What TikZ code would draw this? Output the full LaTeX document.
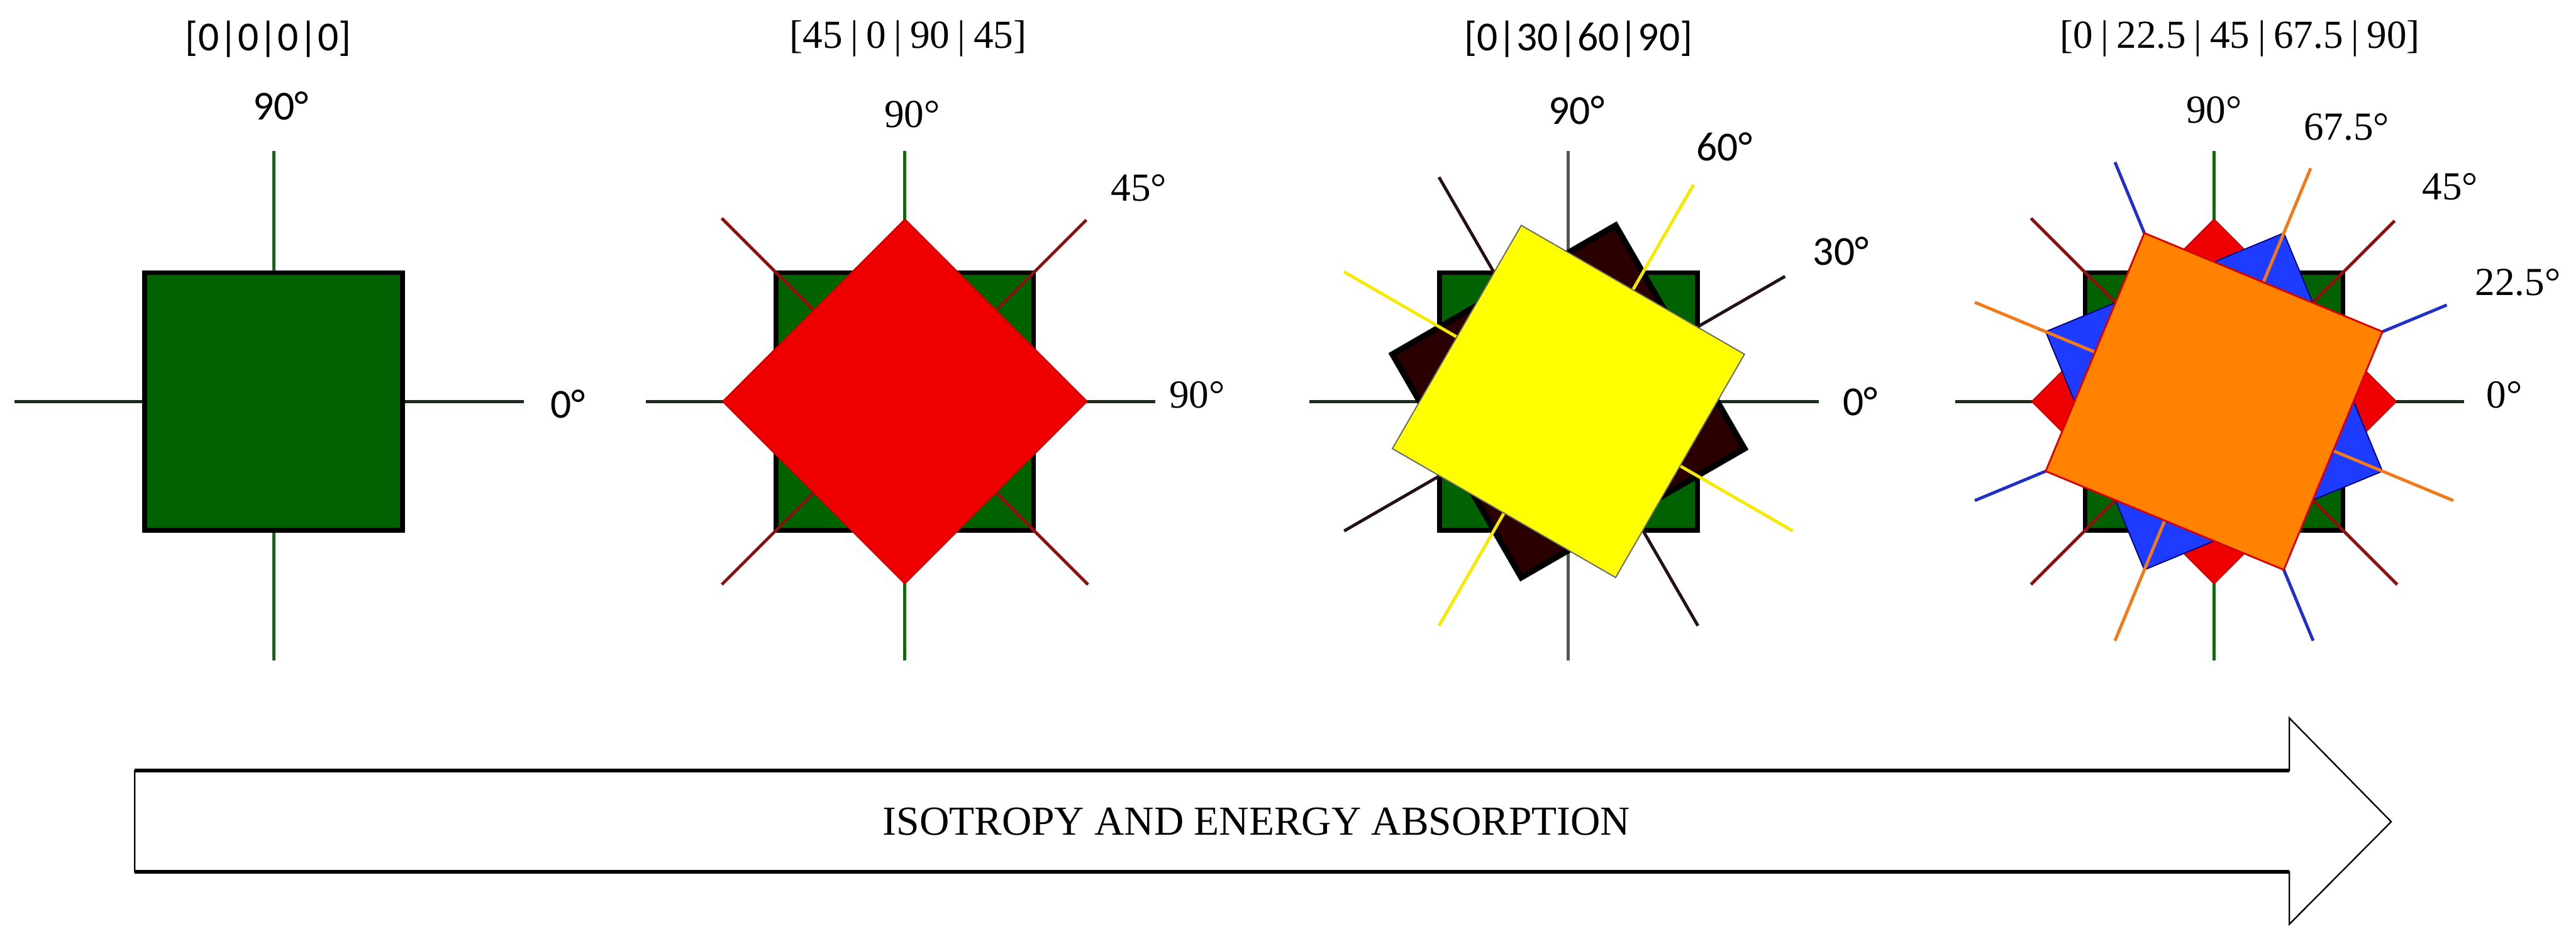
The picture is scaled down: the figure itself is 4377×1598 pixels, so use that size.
\documentclass[tikz,border=0pt]{standalone}
\usepackage{fontspec}
\setmainfont{Liberation Serif}
\newfontfamily\sansf{Carlito}
\definecolor{sqgreen}{HTML}{006200}
\definecolor{gvline}{HTML}{0F6A0F}
\definecolor{ghline}{HTML}{1E2A1E}
\definecolor{graylinec}{HTML}{4B5A50}
\definecolor{redsq}{HTML}{EE0000}
\definecolor{redline}{HTML}{8E1010}
\definecolor{darksq}{HTML}{2A0000}
\definecolor{darkline}{HTML}{24101A}
\definecolor{yellowsq}{HTML}{FFFF00}
\definecolor{yellowline}{HTML}{F5EA00}
\definecolor{bluesq}{HTML}{1E3CFF}
\definecolor{bluelinec}{HTML}{2030C8}
\definecolor{orangesq}{HTML}{FF8200}
\definecolor{orangelinec}{HTML}{F27A1A}
\newcommand\vbar{\hspace{0.2em}|\hspace{0.2em}}
\begin{document}
\begin{tikzpicture}[x=0.2pt,y=0.2pt,
  axis/.style={line width=1.05pt},
  gsq/.style={fill=sqgreen,draw=black,line width=1.6pt},
  rsq/.style={fill=redsq,draw=red!80!black,line width=0.4pt},
  dsq/.style={fill=darksq,draw=black,line width=2pt},
  ysq/.style={fill=yellowsq,draw=black!60,line width=0.4pt},
  bsq/.style={fill=bluesq,draw=blue!50!black,line width=0.4pt},
  osq/.style={fill=orangesq,draw=red!85!black,line width=0.6pt},
  sanslbl/.style={font=\sansf\fontsize{14}{16}\selectfont,inner sep=0pt},
  seriflbl/.style={font=\fontsize{13.5}{16}\selectfont,inner sep=0pt}]
\useasboundingbox (0,0) rectangle (4377,1598);

% ---------- Panel 1 ----------
\begin{scope}[shift={(465,916)}]
  \draw[axis,gvline] (270:440) -- (90:425);
  \draw[axis,ghline] (180:440) -- (0:425);
  \draw[gsq] (45:309.7) -- (135:309.7) -- (225:309.7) -- (315:309.7) -- cycle;
\end{scope}
\node[sanslbl] (t1) at (456,1532) {[0|0|0|0]};
\node[sanslbl] (a1n) at (477,1418) {90°};
\node[sanslbl] (a1z) at (965,912) {0°};

% ---------- Panel 2 ----------
\begin{scope}[shift={(1537.5,916)}]
  \draw[axis,gvline] (270:440) -- (90:425);
  \draw[axis,ghline] (180:440) -- (0:425);
  \draw[gsq] (45:309.7) -- (135:309.7) -- (225:309.7) -- (315:309.7) -- cycle;
  \draw[axis,redline,rotate=45] (180:440) -- (0:436) (270:440) -- (90:440);
  \draw[rsq,rotate=45] (45:309.7) -- (135:309.7) -- (225:309.7) -- (315:309.7) -- cycle;
\end{scope}
\node[seriflbl] (t2) at (1543,1532) {[45\vbar 0\vbar 90\vbar 45]};
\node[seriflbl] (a2n) at (1550,1404) {90°};
\node[seriflbl] (a2d) at (1935,1279) {45°};
\node[seriflbl] (a2z) at (2034,927) {90°};

% ---------- Panel 3 ----------
\begin{scope}[shift={(2665,916)}]
  \draw[axis,graylinec] (270:440) -- (90:425);
  \draw[axis,ghline] (180:440) -- (0:425);
  \draw[gsq] (45:309.7) -- (135:309.7) -- (225:309.7) -- (315:309.7) -- cycle;
  \draw[axis,darkline,rotate=30] (180:440) -- (0:425) (270:440) -- (90:440);
  \draw[dsq,rotate=30] (45:309.7) -- (135:309.7) -- (225:309.7) -- (315:309.7) -- cycle;
  \draw[axis,yellowline,rotate=60] (180:440) -- (0:425) (270:440) -- (90:440);
  \draw[ysq,rotate=60] (45:309.7) -- (135:309.7) -- (225:309.7) -- (315:309.7) -- cycle;
\end{scope}
\node[sanslbl] (t3) at (2682,1532) {[0|30|60|90]};
\node[sanslbl] (a3n) at (2679,1411) {90°};
\node[sanslbl] (a3s) at (2930,1349) {60°};
\node[sanslbl] (a3t) at (3128,1171) {30°};
\node[sanslbl] (a3z) at (3161,916) {0°};

% ---------- Panel 4 ----------
\begin{scope}[shift={(3762,916)}]
  \draw[axis,gvline] (270:440) -- (90:425);
  \draw[axis,ghline] (180:440) -- (0:425);
  \draw[gsq] (45:309.7) -- (135:309.7) -- (225:309.7) -- (315:309.7) -- cycle;
  \draw[axis,redline,rotate=45] (180:440) -- (0:434) (270:440) -- (90:440);
  \draw[rsq,rotate=45] (45:309.7) -- (135:309.7) -- (225:309.7) -- (315:309.7) -- cycle;
  \draw[axis,bluelinec,rotate=22.5] (180:440) -- (0:428) (270:440) -- (90:440);
  \draw[bsq,rotate=22.5] (45:309.7) -- (135:309.7) -- (225:309.7) -- (315:309.7) -- cycle;
  \draw[axis,orangelinec,rotate=67.5] (180:440) -- (0:429) (270:440) -- (90:440);
  \draw[osq,rotate=67.5] (45:309.7) -- (135:309.7) -- (225:309.7) -- (315:309.7) -- cycle;
\end{scope}
\node[seriflbl] (t4) at (3806,1532) {[0\vbar 22.5\vbar 45\vbar 67.5\vbar 90]};
\node[seriflbl] (a4n) at (3762,1411) {90°};
\node[seriflbl] (a4a) at (3987,1382) {67.5°};
\node[seriflbl] (a4b) at (4163,1281) {45°};
\node[seriflbl] (a4c) at (4278,1118) {22.5°};
\node[seriflbl] (a4z) at (4255,927) {0°};

% ---------- Arrow ----------
\draw[line width=0.5pt,line join=miter] (229,289) -- (3890,289) -- (3890,378) -- (4063,202)
  -- (3890,28) -- (3890,117) -- (229,117) -- cycle;
\draw[line width=1.3pt] (229,289) -- (3890,289);
\draw[line width=1.3pt] (229,117) -- (3890,117);
\node[font=\fontsize{14}{16}\selectfont,inner sep=0pt] (arrowtext) at (2135,202) {ISOTROPY AND ENERGY ABSORPTION};
\end{tikzpicture}
\end{document}
